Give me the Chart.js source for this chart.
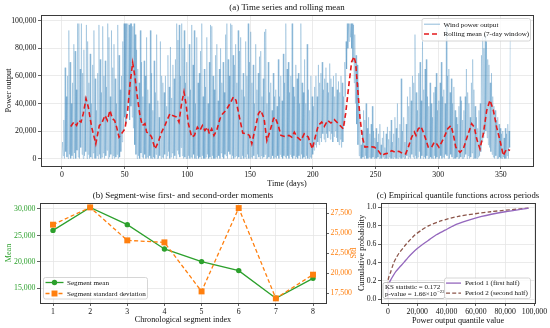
<!DOCTYPE html>
<html>
<head>
<meta charset="utf-8">
<script src="https://cdn.jsdelivr.net/npm/chart.js@4.4.1/dist/chart.umd.min.js"></script>
<style>
body{margin:0;background:#fff;width:550px;height:328px;position:relative;overflow:hidden}
canvas{position:absolute}
#c1{left:0;top:0}
#c2{left:0;top:188px}
#c3{left:352px;top:188px}
</style>
</head>
<body>
<canvas id="c1" width="550" height="190"></canvas>
<canvas id="c2" width="372" height="140"></canvas>
<canvas id="c3" width="198" height="140"></canvas>
<script>
// (a) wind power, one high and one low reading per day (day 0..357)
let windHigh = [
12000,28000,66000,45000,60000,93000,70000,40000,55000,83000,
78000,50000,98000,98000,65000,98000,62000,79000,45000,97000,
85000,55000,76000,40000,68000,93000,58000,35000,62000,97000,
72000,48000,96000,60000,71000,52000,98000,88000,45000,93000,
66000,83000,58000,40000,97000,75000,50000,60000,85000,98000,
98000,98000,98000,97000,98000,98000,96000,98000,90000,79000,
65000,55000,93000,70000,45000,71000,60000,88000,50000,40000,
93000,62000,35000,71000,48000,90000,42000,30000,85000,60000,
55000,48000,60000,38000,75000,52000,81000,44000,68000,58000,
72000,98000,86000,97000,60000,98000,80000,93000,55000,70000,
45000,83000,50000,97000,68000,93000,40000,88000,55000,62000,
78000,98000,45000,65000,52000,88000,40000,70000,97000,96000,
60000,50000,75000,83000,42000,65000,80000,55000,70000,48000,
90000,98000,72000,60000,98000,97000,75000,68000,83000,55000,
93000,78000,88000,50000,62000,45000,85000,60000,98000,70000,
92000,55000,68000,40000,83000,50000,62000,74000,78000,45000,
58000,92000,94000,40000,70000,48000,55000,35000,62000,45000,
50000,38000,72000,45000,60000,42000,76000,55000,98000,65000,
70000,48000,60000,98000,52000,45000,68000,58000,62000,40000,
98000,55000,48000,72000,40000,83000,50000,35000,60000,45000,
38000,52000,60000,45000,68000,55000,62000,70000,50000,58000,
66000,55000,48000,69000,58000,52000,60000,45000,62000,50000,
56000,48000,60000,55000,45000,70000,85000,98000,98000,98000,
98000,98000,97000,90000,75000,68000,55000,35000,10000,20000,
35000,28000,40000,22000,30000,18000,25000,38000,20000,15000,
22000,12000,18000,25000,10000,15000,20000,8000,18000,23000,
14000,20000,28000,12000,18000,30000,22000,40000,15000,25000,
58000,20000,30000,12000,25000,45000,38000,52000,42000,60000,
55000,90000,48000,35000,62000,70000,42000,85000,50000,65000,
72000,45000,38000,55000,40000,30000,48000,52000,62000,35000,
42000,55000,70000,45000,50000,40000,98000,60000,65000,48000,
58000,40000,52000,35000,30000,25000,38000,45000,42000,28000,
35000,45000,65000,48000,40000,30000,55000,72000,50000,38000,
30000,22000,35000,40000,75000,88000,80000,90000,85000,72000,
68000,55000,62000,45000,38000,35000,28000,30000,25000,22000,
18000,20000,15000,22000,18000,25000,20000,93000
]
let windLow = [
0,2000,0,5000,1000,0,3000,0,2000,0,
4000,0,6000,1000,0,8000,3000,0,2000,5000,
0,3000,0,1000,0,4000,0,0,2000,0,
3000,0,1000,4000,0,2000,6000,0,1000,3000,
0,2000,0,1000,3000,0,1000,5000,12000,20000,
30000,25000,35000,40000,28000,38000,30000,22000,10000,3000,
0,2000,0,4000,1000,0,3000,0,1000,0,
2000,0,0,1000,0,3000,0,0,2000,0,
1000,0,3000,0,2000,5000,0,1000,4000,0,
2000,0,6000,3000,1000,8000,2000,0,1000,0,
0,2000,0,1000,0,3000,0,0,2000,0,
1000,0,2000,0,0,1000,3000,0,1000,0,
2000,0,0,1000,0,2000,0,4000,1000,0,
3000,2000,0,5000,3000,0,2000,0,1000,2000,
0,1000,0,0,2000,0,1000,0,3000,0,
0,1000,0,2000,0,0,3000,1000,0,2000,
0,1000,3000,0,0,1000,0,0,2000,0,
1000,0,2000,0,3000,1000,0,2000,1000,0,
2000,0,3000,1000,0,2000,0,1000,0,2000,
0,3000,0,1000,0,2000,0,0,1000,0,
3000,6000,10000,8000,12000,10000,15000,12000,18000,14000,
12000,18000,15000,20000,14000,18000,12000,16000,20000,15000,
12000,10000,14000,8000,12000,25000,45000,65000,80000,85000,
88000,80000,70000,55000,40000,25000,10000,2000,0,0,
1000,0,2000,0,0,1000,0,0,1000,0,
0,0,1000,0,0,0,1000,0,0,0,
0,1000,0,0,0,1000,0,0,0,1000,
0,0,1000,0,0,2000,0,1000,0,3000,
1000,0,2000,0,1000,5000,0,2000,0,1000,
0,2000,0,0,1000,0,0,2000,0,1000,
0,0,2000,0,1000,0,3000,2000,0,0,
3000,1000,0,0,0,1000,0,0,1000,0,
0,1000,3000,0,2000,0,1000,4000,0,0,
0,0,1000,2000,5000,12000,15000,18000,20000,15000,
10000,8000,5000,3000,1000,0,2000,0,0,1000,
0,0,1000,0,0,2000,0,8000
]

// (a) rolling mean (7-day window)
let rollDays = [7,9.5,11.7,13.3,15.2,17,19.2,21,23.7,27,
29.8,31.6,34.3,36.2,38.3,40.2,42,43.6,45.5,48.4,
50.3,52.4,54.3,56.4,58.2,60.1,62.2,64.1,66.2,67.5,
69.7,71.5,74.2,76.8,79.5,82.1,84.3,86.1,88.3,91.4,
93.3,95.4,97.3,98.9,100.8,103.5,105.6,108,110,112,
114,116,117.5,119.4,121.2,123.4,126,128.2,130.8,134,
136.7,138.8,141.5,144.2,147.4,149.5,151.4,154,156.7,158.6,
161.2,163.4,166,168.7,169.9,172.5,174.6,177.8,181,183.2,
185.3,187.4,190.6,193.2,196.4,199.6,202.3,204.4,207.1,209.2,
211.9,214.5,217.2,220.4,224.3,226.2,228.9,231,232.9,234.2,
235.8,237.6,239.5,241.6,245.6,249,251.8,255,257.6,260.2,
262.9,265.6,268.7,272.2,274.1,276.2,278.9,281,282.3,284.1,
286.3,288.1,290,292.1,294.8,296.9,298.8,300.6,302.8,305.4,
307.6,310.2,312,314,317.4,320,323.5,326.7,328.8,330.7,
333.3,336,338.7,341.3,344,346.6,349.3,351.9,354.6,357.3]
let rollValues = [23300,26500,24000,27700,26500,32600,43500,37400,22800,10700,
24000,25300,31300,27700,35000,28900,27700,22800,15600,19200,
21600,35000,54400,69500,59300,44700,31300,24000,25300,19200,
18000,15600,7000,11900,19200,24000,28900,32600,31300,30100,
26500,39900,48400,39900,25300,15600,16800,22800,20400,24000,
20400,22800,18000,21600,16800,20400,28900,32600,35000,39900,
44700,42300,30100,18500,18000,16800,10700,21600,32600,35000,
28900,13100,20400,28900,30100,24000,16800,16000,16800,15600,
19200,15600,13100,18000,15600,7000,16800,24000,26500,23300,
27700,25800,28200,25300,21600,32600,54400,70300,74000,69100,
50900,30100,15600,8300,8700,8300,6300,2200,3400,3900,
5800,4600,5300,3400,3400,8300,15600,19200,16800,21600,
23300,19200,14300,8300,8300,11900,10700,8300,11900,16800,
21600,24000,18000,8300,4600,7000,16800,25300,22800,14300,
7000,18000,35000,42300,35000,22800,13100,2200,7000,5800]

let dayTicks = [0,50,100,150,200,250,300,350]
let powerTicks = [0,20000,40000,60000,80000,100000]

// (b) segment moments
let segments = [1,2,3,4,5,6,7,8]
let segMean = [25960,30300,27040,22450,20060,18360,13130,16900]
let segStd = [26040,28200,24080,23830,17700,28120,16830,19790]
let meanTicks = [15000,20000,25000,30000]
let stdTicks = [17500,20000,22500,25000,27500]

// (c) empirical quantile functions
let probLevels = [0.01,0.05,0.10,0.15,0.20,0.25,0.30,0.35,0.40,0.45,0.50,0.55,0.60,0.65,0.70,0.75,0.80,0.85,0.90,0.95,0.99]
let period1Q = [0,0,0,0,1500,3300,5300,8000,10900,13500,16500,20000,24000,28500,33000,39000,44900,53500,64000,80000,96000]
let period2Q = [0,0,0,0,0,700,1900,2900,4000,5600,7500,10000,12500,15400,18500,22800,28000,36000,48000,70000,96000]
let quantTicks = [0,20000,40000,60000,80000,100000]
let probTicks = [0,0.2,0.4,0.6,0.8,1.0]

let ksText = "KS statistic = 0.172"
let pText = "p-value = 1.66×10"
let pExp = "−22"


Chart.defaults.font.family = '"Liberation Serif","Times New Roman",serif'
Chart.defaults.color = "#111111"
Chart.defaults.animation = false

const GRID = "#e6e6e6"
const FRAME = "#3a3a3a"
const TEXT = "#111111"
const SERIF = '"Liberation Serif","Times New Roman",serif'

let comma = v => v.toLocaleString("en-US")

function scale(min, max, tickVals, fmt, size, extra){
  let s = {
    type:"linear", min:min, max:max,
    afterBuildTicks: sc => { sc.ticks = tickVals.map(v => ({value:v})) },
    afterFit: sc => { if(sc.isHorizontal()) sc.height = size; else sc.width = size },
    grid:{color:GRID, lineWidth:0.8, tickColor:FRAME, tickLength:3, tickWidth:0.8},
    border:{display:false},
    ticks:{font:{size:7.8}, padding:1.5, maxRotation:0, autoSkip:false, callback: v => fmt(v)}
  }
  if(extra){
    if(extra.tickColor) s.ticks.color = extra.tickColor
    if(extra.position) s.position = extra.position
    if(extra.noGrid) s.grid.drawOnChartArea = false
  }
  return s
}

function drawLegend(ctx, chart, L){
  ctx.fillStyle = "rgba(255,255,255,0.82)"
  ctx.strokeStyle = "#cccccc"
  ctx.lineWidth = 0.8
  ctx.beginPath()
  ctx.roundRect(L.x+0.5, L.y+0.5, L.w, L.h, 2)
  ctx.fill(); ctx.stroke()
  ctx.font = L.font + "px " + SERIF
  ctx.textAlign = "left"
  ctx.textBaseline = "middle"
  L.items.forEach((di, i) => {
    let ds = chart.data.datasets[di]
    let y = L.y + L.row0 + i*L.rowH
    ctx.strokeStyle = ds.legendColor || ds.borderColor
    ctx.lineWidth = ds.legendWidth || ds.borderWidth
    ctx.setLineDash(ds.borderDash || [])
    ctx.beginPath(); ctx.moveTo(L.x+L.s0, y); ctx.lineTo(L.x+L.s1, y); ctx.stroke()
    ctx.setLineDash([])
    let mx = L.x + (L.s0+L.s1)/2
    if(ds.pointRadius && ds.pointStyle=="circle"){
      ctx.fillStyle = ds.borderColor
      ctx.beginPath(); ctx.arc(mx, y, ds.pointRadius, 0, Math.PI*2); ctx.fill()
    }
    if(ds.pointRadius && ds.pointStyle=="rect"){
      let h = ds.pointRadius*Math.SQRT1_2
      ctx.fillStyle = ds.borderColor
      ctx.fillRect(mx-h, y-h, 2*h, 2*h)
    }
    ctx.fillStyle = TEXT
    ctx.fillText(ds.label, L.x+L.tx, y+0.5)
  })
}

const decor = {
  id:"decor",
  afterDraw(chart, args, o){
    let ctx = chart.ctx, a = chart.chartArea
    ctx.save()
    ctx.strokeStyle = FRAME
    ctx.lineWidth = 1
    ctx.strokeRect(Math.round(a.left)+0.5, Math.round(a.top)+0.5, Math.round(a.right-a.left), Math.round(a.bottom-a.top))
    let cx = (a.left+a.right)/2, cy = (a.top+a.bottom)/2
    ctx.fillStyle = TEXT
    ctx.textAlign = "center"
    ctx.textBaseline = "middle"
    ctx.font = o.titleSize + "px " + SERIF
    ctx.fillText(o.title, cx, o.titleY)
    ctx.font = "8.2px " + SERIF
    ctx.fillText(o.xLabel, cx, o.xLabelY)
    o.yLabels.forEach(l => {
      ctx.save()
      ctx.fillStyle = l.color
      ctx.translate(l.x, cy)
      ctx.rotate(-Math.PI/2)
      ctx.fillText(l.text, 0, 0)
      ctx.restore()
    })
    if(o.ks){
      let k = o.ks
      ctx.fillStyle = "rgba(255,255,255,0.85)"
      ctx.strokeStyle = "#b0b0b0"
      ctx.lineWidth = 0.8
      ctx.beginPath(); ctx.roundRect(k.x+0.5, k.y+0.5, k.w, k.h, 2); ctx.fill(); ctx.stroke()
      ctx.fillStyle = TEXT
      ctx.textAlign = "left"
      ctx.font = "7px " + SERIF
      ctx.fillText(ksText, k.x+2.5, k.y+5)
      ctx.fillText(pText, k.x+2.5, k.y+12)
      let w = ctx.measureText(pText).width
      ctx.font = "4.8px " + SERIF
      ctx.fillText(pExp, k.x+2.5+w+0.5, k.y+9.6)
    }
    if(o.legend) drawLegend(ctx, chart, o.legend)
    ctx.restore()
  }
}

// (a)
let windPts = []
windHigh.forEach((h, d) => {
  windPts.push({x:d, y:windLow[d]})
  windPts.push({x:d+0.5, y:h})
})
let rollPts = rollDays.map((d, i) => ({x:d, y:rollValues[i]}))

new Chart(document.getElementById("c1"),{
  type:"line",
  data:{datasets:[
    {label:"Wind power output", data:windPts, borderColor:"rgba(31,119,180,0.42)", borderWidth:0.6,
     legendColor:"rgba(31,119,180,0.5)", legendWidth:1, pointRadius:0, order:1},
    {label:"Rolling mean (7-day window)", data:rollPts, borderColor:"#e41a1c", borderWidth:1.6, borderDash:[5,3], pointRadius:0, order:0}
  ]},
  options:{
    responsive:false,
    layout:{padding:{left:0, top:15, right:17, bottom:0}},
    scales:{
      x: scale(-16.7, 375.6, dayTicks, v => v, 24),
      y: scale(-5400, 104200, powerTicks, comma, 41)
    },
    plugins:{
      legend:{display:false}, tooltip:{enabled:false},
      decor:{
        title:"(a) Time series and rolling mean", titleY:8, titleSize:8.9,
        xLabel:"Time (days)", xLabelY:184,
        yLabels:[{text:"Power output", x:9, color:TEXT}],
        legend:{x:421.5, y:18, w:108.5, h:22.5, row0:6.2, rowH:9.8, s0:2.5, s1:18.5, tx:22, font:7.1, items:[0,1]}
      }
    }
  },
  plugins:[decor]
})

// (b)
new Chart(document.getElementById("c2"),{
  type:"line",
  data:{datasets:[
    {label:"Segment mean", data:segments.map((s,i)=>({x:s, y:segMean[i]})), yAxisID:"y",
     borderColor:"#2ca02c", backgroundColor:"#2ca02c", borderWidth:1.3, pointStyle:"circle", pointRadius:2.7, pointBorderWidth:0, order:1},
    {label:"Segment standard deviation", data:segments.map((s,i)=>({x:s, y:segStd[i]})), yAxisID:"y2",
     borderColor:"#ff7f0e", backgroundColor:"#ff7f0e", borderWidth:1.3, borderDash:[4,2.5], pointStyle:"rect", pointRadius:4.2, pointBorderWidth:0, order:0}
  ]},
  options:{
    responsive:false,
    layout:{padding:{left:0, top:15, right:0, bottom:0}},
    scales:{
      x: scale(0.65, 8.35, segments, v => v, 25),
      y: scale(12245, 31130, meanTicks, comma, 40, {tickColor:"#2ca02c"}),
      y2: scale(16250, 28750, stdTicks, comma, 46, {tickColor:"#ff7f0e", position:"right", noGrid:true})
    },
    plugins:{
      legend:{display:false}, tooltip:{enabled:false},
      decor:{
        title:"(b) Segment-wise first- and second-order moments", titleY:8, titleSize:8.9,
        xLabel:"Chronological segment index", xLabelY:131.5,
        yLabels:[{text:"Mean", x:8.5, color:"#2ca02c"},{text:"Std", x:353.5, color:"#ff7f0e"}],
        legend:{x:43, y:89, w:104, h:21.5, row0:5.5, rowH:11, s0:2.5, s1:20.5, tx:24, font:7.1, items:[0,1]}
      }
    }
  },
  plugins:[decor]
})

// (c)
new Chart(document.getElementById("c3"),{
  type:"line",
  data:{datasets:[
    {label:"Period 1 (first half)", data:probLevels.map((p,i)=>({x:period1Q[i], y:p})),
     borderColor:"#9467bd", borderWidth:1.3, pointRadius:0, tension:0.25},
    {label:"Period 2 (second half)", data:probLevels.map((p,i)=>({x:period2Q[i], y:p})),
     borderColor:"#8c564b", borderWidth:1.3, borderDash:[4,2.2], pointRadius:0, tension:0.25}
  ]},
  options:{
    responsive:false,
    layout:{padding:{left:0, top:15, right:15, bottom:0}},
    scales:{
      x: scale(-4780, 100380, quantTicks, comma, 25),
      y: scale(-0.04, 1.045, probTicks, v => v.toFixed(1), 29)
    },
    plugins:{
      legend:{display:false}, tooltip:{enabled:false},
      decor:{
        title:"(c) Empirical quantile functions across periods", titleY:8, titleSize:8.7,
        xLabel:"Power output quantile value", xLabelY:132.5,
        yLabels:[{text:"Cumulative probability", x:10, color:TEXT}],
        ks:{x:30.5, y:94, w:62, h:16},
        legend:{x:92, y:89.5, w:86, h:20.5, row0:5.6, rowH:10, s0:2, s1:17, tx:21, font:7.1, items:[0,1]}
      }
    }
  },
  plugins:[decor]
})
</script>
</body>
</html>
